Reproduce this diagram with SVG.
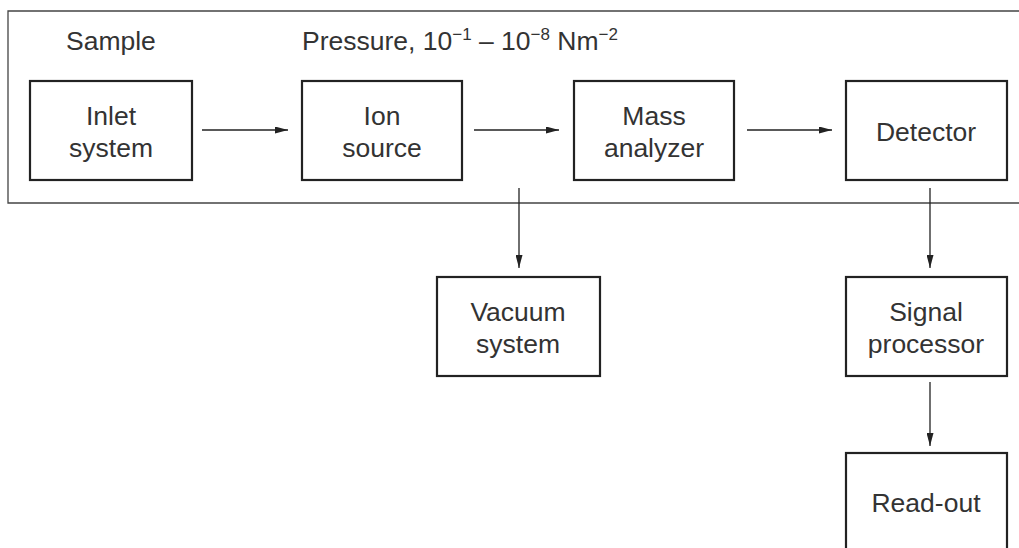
<svg xmlns="http://www.w3.org/2000/svg" width="1019" height="548" viewBox="0 0 1019 548">
<defs>
<style>
.box{fill:#fff;stroke:#222;stroke-width:2.2}
.frame{fill:none;stroke:#444;stroke-width:1.3}
.t{font-family:"Liberation Sans",Arial,sans-serif;font-size:26.5px;fill:#333;text-anchor:middle}
.l{font-family:"Liberation Sans",Arial,sans-serif;font-size:26.5px;fill:#333}
.c{stroke:#222;stroke-width:1.3;fill:none;marker-end:url(#ah)}
</style>
<marker id="ah" viewBox="0 0 13 7" refX="13" refY="3.5" markerWidth="13" markerHeight="7" markerUnits="userSpaceOnUse" orient="auto">
<path d="M0,0 L13,3.5 L0,7 z" fill="#222"/>
</marker>
</defs>
<rect width="1019" height="548" fill="#fff"/>
<path class="frame" d="M1025,11 H8 V203 H1025"/>
<text class="l" x="66" y="50">Sample</text>
<text class="l" x="302" y="50">Pressure, 10<tspan font-size="17" dy="-10">−1</tspan><tspan dy="10"> – 10</tspan><tspan font-size="17" dy="-10">−8</tspan><tspan dy="10"> Nm</tspan><tspan font-size="17" dy="-10">−2</tspan></text>
<g id="connectors">
<line class="c" x1="202" y1="130" x2="288" y2="130"/>
<line class="c" x1="474" y1="130" x2="559" y2="130"/>
<line class="c" x1="747" y1="130" x2="832" y2="130"/>
<line class="c" x1="519" y1="188" x2="519" y2="268"/>
<line class="c" x1="930" y1="188" x2="930" y2="268"/>
<line class="c" x1="930" y1="382" x2="930" y2="446"/>
</g>
<g id="inlet"><rect class="box" x="30" y="81" width="162" height="99"/><text class="t" x="111" y="125">Inlet</text><text class="t" x="111" y="157">system</text></g>
<g id="ion"><rect class="box" x="302" y="81" width="160" height="99"/><text class="t" x="382" y="125">Ion</text><text class="t" x="382" y="157">source</text></g>
<g id="mass"><rect class="box" x="574" y="81" width="160" height="99"/><text class="t" x="654" y="125">Mass</text><text class="t" x="654" y="157">analyzer</text></g>
<g id="detector"><rect class="box" x="846" y="81" width="161" height="99"/><text class="t" x="926" y="141">Detector</text></g>
<g id="vacuum"><rect class="box" x="437" y="277" width="163" height="99"/><text class="t" x="518" y="321">Vacuum</text><text class="t" x="518" y="353">system</text></g>
<g id="signal"><rect class="box" x="846" y="277" width="161" height="99"/><text class="t" x="926" y="321">Signal</text><text class="t" x="926" y="353">processor</text></g>
<g id="readout"><rect class="box" x="846" y="453" width="161" height="110"/><text class="t" x="926" y="512">Read-out</text></g>
</svg>
